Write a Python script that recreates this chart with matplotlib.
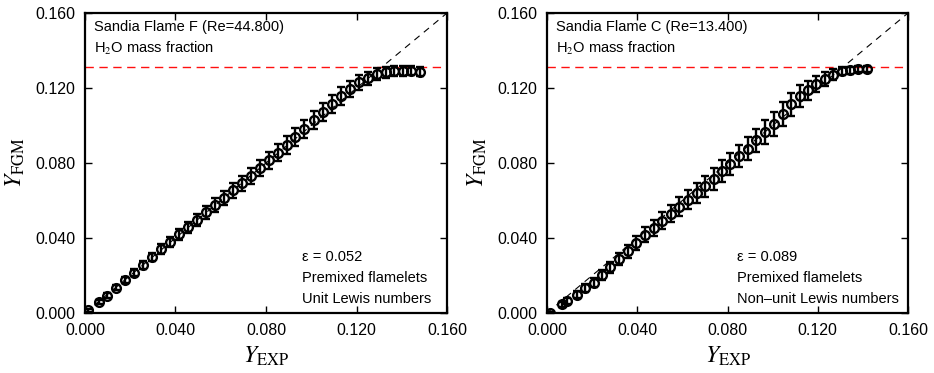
import numpy as np
import matplotlib
matplotlib.use("Agg")
import matplotlib.pyplot as plt

plt.rcParams["font.family"] = ["Liberation Sans", "DejaVu Sans"]
plt.rcParams["mathtext.fontset"] = "stix"

# Sandia Flame F, unit Lewis numbers
f_exp = [0.0015, 0.0063, 0.0097, 0.0137, 0.0175, 0.0217, 0.0257, 0.0297, 0.0336, 0.0376,
         0.0416, 0.0456, 0.0495, 0.0534, 0.0574, 0.0613, 0.0653, 0.0693, 0.0733, 0.0774,
         0.0813, 0.0852, 0.0892, 0.0930, 0.0970, 0.1012, 0.1051, 0.1093, 0.1133, 0.1171,
         0.1211, 0.1250, 0.1290, 0.1329, 0.1367, 0.1404, 0.1441, 0.1481]
f_fgm = [0.0014, 0.0059, 0.0092, 0.0135, 0.0174, 0.0215, 0.0255, 0.0298, 0.0341, 0.0380,
         0.0419, 0.0456, 0.0497, 0.0536, 0.0575, 0.0614, 0.0655, 0.0692, 0.0731, 0.0772,
         0.0814, 0.0855, 0.0896, 0.0938, 0.0983, 0.1029, 0.1073, 0.1114, 0.1158, 0.1196,
         0.1231, 0.1252, 0.1274, 0.1284, 0.1290, 0.1290, 0.1293, 0.1288]
f_err = [0.0008, 0.0010, 0.0012, 0.0014, 0.0016, 0.0018, 0.0020, 0.0022, 0.0025, 0.0027,
         0.0029, 0.0031, 0.0033, 0.0035, 0.0037, 0.0038, 0.0040, 0.0041, 0.0043, 0.0044,
         0.0045, 0.0046, 0.0047, 0.0047, 0.0048, 0.0048, 0.0048, 0.0047, 0.0046, 0.0044,
         0.0040, 0.0036, 0.0032, 0.0028, 0.0026, 0.0026, 0.0026, 0.0024]

# Sandia Flame C, non-unit Lewis numbers
c_exp = [0.0015, 0.0065, 0.0089, 0.0131, 0.0170, 0.0208, 0.0245, 0.0280, 0.0320, 0.0357,
         0.0396, 0.0434, 0.0472, 0.0511, 0.0549, 0.0587, 0.0626, 0.0663, 0.0700, 0.0738,
         0.0776, 0.0813, 0.0852, 0.0890, 0.0928, 0.0967, 0.1005, 0.1044, 0.1082, 0.1120,
         0.1156, 0.1194, 0.1231, 0.1269, 0.1308, 0.1343, 0.1380, 0.1417]
c_fgm = [0.0000, 0.0046, 0.0064, 0.0098, 0.0132, 0.0162, 0.0201, 0.0244, 0.0288, 0.0329,
         0.0373, 0.0416, 0.0455, 0.0492, 0.0530, 0.0567, 0.0603, 0.0638, 0.0676, 0.0715,
         0.0756, 0.0795, 0.0836, 0.0876, 0.0921, 0.0965, 0.1010, 0.1063, 0.1113, 0.1156,
         0.1188, 0.1223, 0.1248, 0.1271, 0.1289, 0.1294, 0.1300, 0.1301]
c_err = [0.0005, 0.0012, 0.0014, 0.0017, 0.0020, 0.0023, 0.0026, 0.0029, 0.0032, 0.0035,
         0.0038, 0.0040, 0.0043, 0.0045, 0.0047, 0.0049, 0.0051, 0.0053, 0.0055, 0.0057,
         0.0058, 0.0059, 0.0060, 0.0061, 0.0062, 0.0063, 0.0064, 0.0064, 0.0062, 0.0058,
         0.0050, 0.0042, 0.0035, 0.0028, 0.0022, 0.0018, 0.0016, 0.0014]

y_eq = 0.1312
ticks = [0.0, 0.04, 0.08, 0.12, 0.16]
tick_labels = ["0.000", "0.040", "0.080", "0.120", "0.160"]

panels = [
    (f_exp, f_fgm, f_err, "Sandia Flame F (Re=44.800)",
     ["\u03b5 = 0.052", "Premixed flamelets", "Unit Lewis numbers"], 0.60),
    (c_exp, c_fgm, c_err, "Sandia Flame C (Re=13.400)",
     ["\u03b5 = 0.089", "Premixed flamelets", "Non\u2013unit Lewis numbers"], 0.526),
]
positions = [[0.091, 0.161, 0.3876, 0.804], [0.5857, 0.161, 0.3865, 0.804]]

fig = plt.figure(figsize=(9.34, 3.73), dpi=100)

for pos, (xe, yf, err, title, notes, nx) in zip(positions, panels):
    ax = fig.add_axes(pos)
    ax.plot([0, 0.16], [0, 0.16], color="black", lw=0.8, dashes=(6, 5))
    ax.axhline(y_eq, color="#ff1010", lw=1.0, dashes=(6, 4))
    ax.errorbar(xe, yf, yerr=err, fmt="o", ms=6.3, mfc="none", mec="black", mew=1.7,
                ecolor="black", elinewidth=1.7, capsize=3, capthick=1.7, zorder=3)
    ax.set_xlim(0, 0.16)
    ax.set_ylim(0, 0.16)
    ax.set_xticks(ticks)
    ax.set_xticklabels(tick_labels)
    ax.set_yticks(ticks)
    ax.set_yticklabels(tick_labels)
    ax.tick_params(direction="in", top=True, right=True, length=5, width=1,
                   labelsize=11.5, pad=7)
    for s in ax.spines.values():
        s.set_linewidth(1.6)
    ax.set_xlabel(r"$Y_{\rm EXP}$", fontsize=17, labelpad=5)
    ax.set_ylabel(r"$Y_{\rm FGM}$", fontsize=17, labelpad=6)
    ax.text(0.025, 0.953, title, transform=ax.transAxes, fontsize=10.5, va="center")
    ax.text(0.025, 0.883, r"H$_2$O mass fraction", transform=ax.transAxes,
            fontsize=10.5, va="center")
    for k, line in enumerate(notes):
        ax.text(nx, 0.187 - 0.07 * k, line, transform=ax.transAxes, fontsize=10.5,
                va="center")

fig.savefig("out.png", dpi=100)
